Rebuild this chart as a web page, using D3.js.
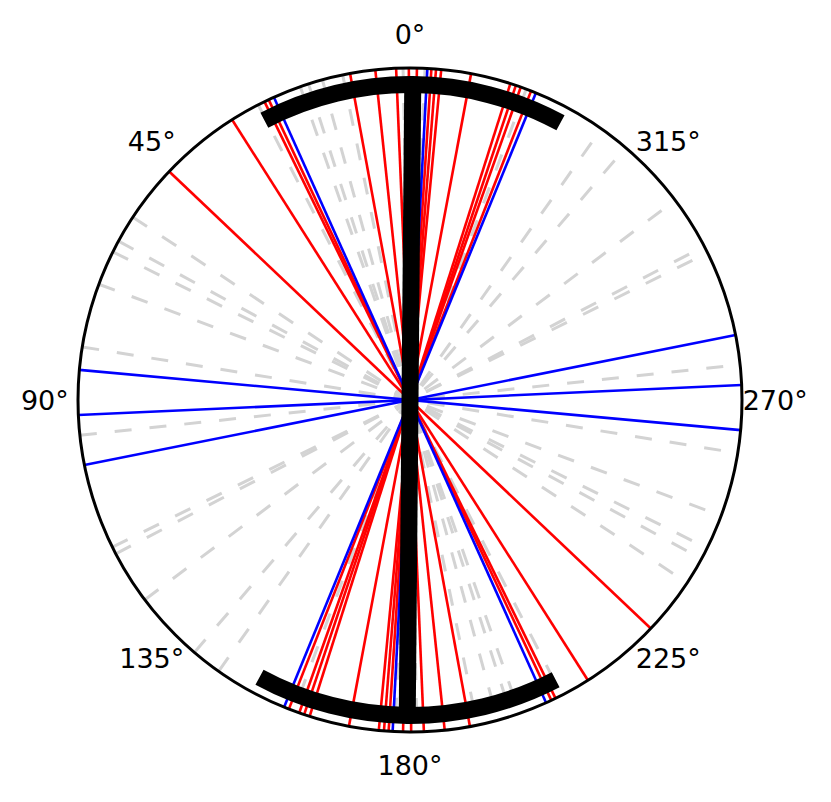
<!DOCTYPE html>
<html>
<head>
<meta charset="utf-8">
<script src="https://cdn.jsdelivr.net/npm/d3@7"></script>
<style>
  html, body { margin: 0; padding: 0; background: #fff; }
  svg { display: block; }
</style>
</head>
<body>
<svg id="chart" width="831" height="802"></svg>
<script>
// Axial directions (degrees, counter-clockwise from north); each drawn as a full diameter
const redAngles  = [46.5, 32.4, 26.0, 25.2, 10.4, 6.0, 2.4, 0.2, -1.2, -3.7, -4.5, -5.4, -10.6, -17.6, -18.6, -19.5, -21.4];
const blueAngles = [24.2, -3.0, -22.3, 84.8, 92.6, 101.3];
const grayAngles = [1.2, -2.6, 11.7, 15.3, 17.8, 19.3, 27.2, -20.5, 56.6, 61.4, 63.5, 69.6, 80.8, 96.1, 116.3, 117.6, 127.0, 139.5, 144.8];
// Mean axial direction and its spread
const meanAngle = -0.5;
const spreadHalf = 28;
const meanRadius = 0.95;
// Angular tick labels
const tickAngles = [0, 45, 90, 135, 180, 225, 270, 315];
const tickLabels = ["0°", "45°", "90°", "135°", "180°", "225°", "270°", "315°"];

const cx = 410, cy = 400, R = 332;
const svg = d3.select("#chart");
const g = svg.append("g").attr("transform", `translate(${cx},${cy})`);

const rScale = d3.scaleLinear().domain([0, 1]).range([0, R]);
// counter-clockwise degrees from top -> d3 radial angle (clockwise radians)
const aScale = d3.scaleLinear().domain([0, 360]).range([0, -2 * Math.PI]);

const line = d3.line();
const diameter = t => line([
  d3.pointRadial(aScale(t), rScale(1)),
  d3.pointRadial(aScale(t + 180), rScale(1))
]);

g.append("g").selectAll("path").data(grayAngles).join("path")
  .attr("d", diameter)
  .attr("fill", "none")
  .attr("stroke", "#d3d3d3")
  .attr("stroke-width", 3)
  .attr("stroke-dasharray", "17,18");

g.append("g").selectAll("path").data(redAngles).join("path")
  .attr("d", diameter)
  .attr("fill", "none")
  .attr("stroke", "#ff0000")
  .attr("stroke-width", 2.6);

g.append("g").selectAll("path").data(blueAngles).join("path")
  .attr("d", diameter)
  .attr("fill", "none")
  .attr("stroke", "#0000ff")
  .attr("stroke-width", 2.6);

// mean direction bar
g.append("path")
  .attr("d", line([
    d3.pointRadial(aScale(meanAngle), rScale(meanRadius)),
    d3.pointRadial(aScale(meanAngle + 180), rScale(meanRadius))
  ]))
  .attr("stroke", "#000")
  .attr("stroke-width", 17)
  .attr("fill", "none");

// spread arcs
const arc = d3.arc()
  .innerRadius(rScale(meanRadius) - 8.5)
  .outerRadius(rScale(meanRadius) + 8.5);
[meanAngle, meanAngle + 180].forEach(m => {
  const a0 = aScale(m + spreadHalf), a1 = aScale(m - spreadHalf);
  g.append("path")
    .attr("d", arc({startAngle: Math.min(a0, a1), endAngle: Math.max(a0, a1)}))
    .attr("fill", "#000");
});

// outer circle
g.append("circle").attr("r", rScale(1))
  .attr("fill", "none").attr("stroke", "#000").attr("stroke-width", 3);

// tick labels
g.append("g").selectAll("text").data(tickAngles).join("text")
  .attr("x", d => d3.pointRadial(aScale(d), rScale(1.1))[0])
  .attr("y", d => d3.pointRadial(aScale(d), rScale(1.1))[1])
  .attr("text-anchor", "middle")
  .attr("dominant-baseline", "central")
  .attr("font-family", "DejaVu Sans")
  .attr("font-size", 27)
  .attr("fill", "#000")
  .text((d, i) => tickLabels[i]);
</script>
</body>
</html>
